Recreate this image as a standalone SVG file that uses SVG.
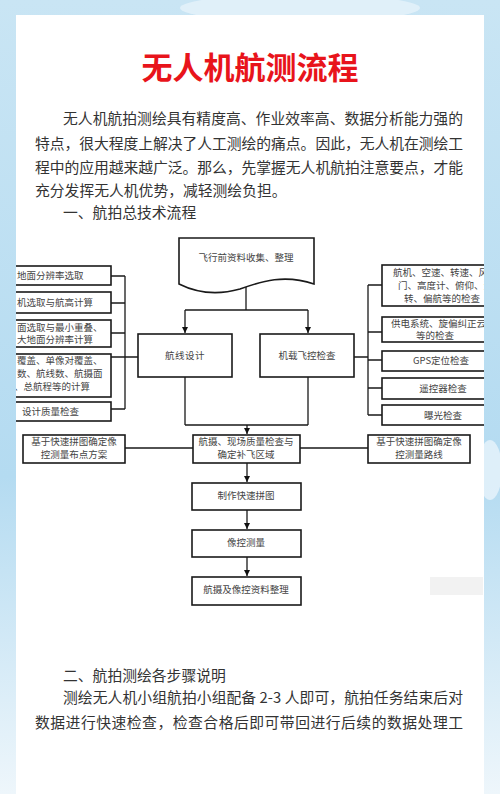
<svg xmlns="http://www.w3.org/2000/svg" width="500" height="794" viewBox="0 0 500 794">
<defs>
<linearGradient id="bg" x1="0" y1="0" x2="0" y2="1">
<stop offset="0" stop-color="#c9e5f4"/>
<stop offset="0.6" stop-color="#b4dbf1"/>
<stop offset="1" stop-color="#eef6fb"/>
</linearGradient>
<clipPath id="card"><rect x="16" y="15" width="468" height="779"/></clipPath>
<marker id="arr" viewBox="0 0 10 10" refX="10" refY="5" markerWidth="5" markerHeight="5" orient="auto"><path d="M0,0 L10,5 L0,10 Z" fill="#111"/></marker>
<style>
.box{fill:#fff;stroke:#1a1a1a;stroke-width:1.6}
.ln{fill:none;stroke:#1a1a1a;stroke-width:1.3}
.t{font-family:"Noto Sans CJK SC","Liberation Serif",sans-serif;font-size:9.5px;fill:#444}
.tc{text-anchor:middle}
.body{font-family:"Noto Sans CJK SC","Liberation Serif",sans-serif;font-size:14.8px;fill:#333}
</style>
</defs>
<rect x="0" y="0" width="500" height="794" fill="url(#bg)"/>
<ellipse cx="300" cy="8" rx="120" ry="14" fill="#e6f3fa" opacity="0.8"/>
<ellipse cx="490" cy="470" rx="12" ry="30" fill="#e8f4fb" opacity="0.8"/>
<rect x="16" y="15" width="468" height="779" fill="#fff"/>
<rect x="430" y="577" width="53" height="18" fill="#ececec" opacity="0.7"/>

<text x="250" y="79" text-anchor="middle" font-family="'Noto Sans CJK SC',sans-serif" font-weight="700" font-size="31" fill="#e8141b">无人机航测流程</text>

<g id="intro">
<text class="body" x="63" y="124" textLength="400" lengthAdjust="spacing">无人机航拍测绘具有精度高、作业效率高、数据分析能力强的</text>
<text class="body" x="35" y="149" textLength="428" lengthAdjust="spacing">特点，很大程度上解决了人工测绘的痛点。因此，无人机在测绘工</text>
<text class="body" x="35" y="173" textLength="428" lengthAdjust="spacing">程中的应用越来越广泛。那么，先掌握无人机航拍注意要点，才能</text>
<text class="body" x="35" y="196">充分发挥无人机优势，减轻测绘负担。</text>
<text class="body" x="63" y="218">一、航拍总技术流程</text>
</g>

<g clip-path="url(#card)">
<g id="connectors">
<path class="ln" d="M246,284 V310 M185,310 H308"/>
<path class="ln" d="M185,310 V333" marker-end="url(#arr)"/>
<path class="ln" d="M308,310 V333" marker-end="url(#arr)"/>
<path class="ln" d="M125,276 V409 M111,276 H125 M111,303 H125 M111,333 H125 M111,357 H138 M111,409 H125"/>
<path class="ln" d="M368,285 V415 M354,357 H368 M368,285 H382 M368,332 H382 M368,360 H382 M368,388 H382 M368,415 H382"/>
<path class="ln" d="M185,377 V425 M308,377 V425 M185,425 H308"/>
<path class="ln" d="M247,425 V434" marker-end="url(#arr)"/>
<path class="ln" d="M125,448 H193 M300,448 H368"/>
<path class="ln" d="M247,463 V482" marker-end="url(#arr)"/>
<path class="ln" d="M247,510 V529" marker-end="url(#arr)"/>
<path class="ln" d="M247,557 V576" marker-end="url(#arr)"/>
</g>

<g id="n-prep">
<path class="box" d="M179,238 H314 V284 C285,274 262,281 240,289 C215,296 195,292 179,284 Z"/>
<text class="t tc" x="246" y="261">飞行前资料收集、整理</text>
</g>
<g id="n-route">
<rect class="box" x="138" y="334" width="94" height="43"/>
<text class="t tc" x="185" y="359" letter-spacing="0.5">航线设计</text>
</g>
<g id="n-fc">
<rect class="box" x="260" y="334" width="94" height="43"/>
<text class="t tc" x="307" y="359">机载飞控检查</text>
</g>

<g id="n-l1"><rect class="box" x="6" y="266" width="105" height="19"/><text class="t" x="17" y="279">地面分辨率选取</text></g>
<g id="n-l2"><rect class="box" x="6" y="292" width="105" height="21"/><text class="t" x="17" y="306">机选取与航高计算</text></g>
<g id="n-l3"><rect class="box" x="6" y="320" width="105" height="27"/><text class="t" x="17" y="330.5">面选取与最小重叠、</text><text class="t" x="17" y="343.2">大地面分辨率计算</text></g>
<g id="n-l4"><rect class="box" x="6" y="354" width="105" height="43"/><text class="t" x="17" y="364">覆盖、单像对覆盖、</text><text class="t" x="17" y="377">数、航线数、航摄面</text><text class="t" x="14" y="390">、总航程等的计算</text></g>
<g id="n-l5"><rect class="box" x="6" y="402" width="105" height="19"/><text class="t" x="22" y="415">设计质量检查</text></g>

<g id="n-r1"><rect class="box" x="382" y="265" width="110" height="41"/><text class="t" x="393" y="275.5">航机、空速、转速、风</text><text class="t" x="398" y="288.5">门、高度计、俯仰、滚</text><text class="t" x="404" y="301.5">转、偏航等的检查</text></g>
<g id="n-r2"><rect class="box" x="382" y="317" width="110" height="25"/><text class="t" x="391" y="326.5">供电系统、旋偏纠正云台</text><text class="t tc" x="435" y="339.3">等的检查</text></g>
<g id="n-r3"><rect class="box" x="382" y="351" width="110" height="20"/><text class="t tc" x="441" y="364">GPS定位检查</text></g>
<g id="n-r4"><rect class="box" x="382" y="378" width="110" height="21"/><text class="t tc" x="443" y="392">遥控器检查</text></g>
<g id="n-r5"><rect class="box" x="382" y="405" width="110" height="20"/><text class="t tc" x="443" y="419">曝光检查</text></g>
</g>

<g id="n-aerial"><rect class="box" x="193" y="435" width="107" height="28"/><text class="t tc" x="246" y="445">航摄、现场质量检查与</text><text class="t tc" x="246" y="457.5">确定补飞区域</text></g>
<g id="n-left"><rect class="box" x="23" y="435" width="102" height="28"/><text class="t tc" x="74" y="445">基于快速拼图确定像</text><text class="t tc" x="74" y="457.5">控测量布点方案</text></g>
<g id="n-right"><rect class="box" x="368" y="435" width="102" height="28"/><text class="t tc" x="419" y="445">基于快速拼图确定像</text><text class="t tc" x="419" y="457.5">控测量路线</text></g>
<g id="n-mosaic"><rect class="box" x="192" y="483" width="109" height="27"/><text class="t tc" x="246" y="499">制作快速拼图</text></g>
<g id="n-gcp"><rect class="box" x="192" y="530" width="109" height="27"/><text class="t tc" x="246" y="546">像控测量</text></g>
<g id="n-data"><rect class="box" x="192" y="577" width="109" height="28"/><text class="t tc" x="246" y="593">航摄及像控资料整理</text></g>

<g id="steps">
<text class="body" x="63" y="681">二、航拍测绘各步骤说明</text>
<text class="body" x="63" y="703" textLength="400" lengthAdjust="spacing">测绘无人机小组航拍小组配备 2-3 人即可，航拍任务结束后对</text>
<text class="body" x="35" y="728" textLength="428" lengthAdjust="spacing">数据进行快速检查，检查合格后即可带回进行后续的数据处理工</text>
</g>
</svg>
